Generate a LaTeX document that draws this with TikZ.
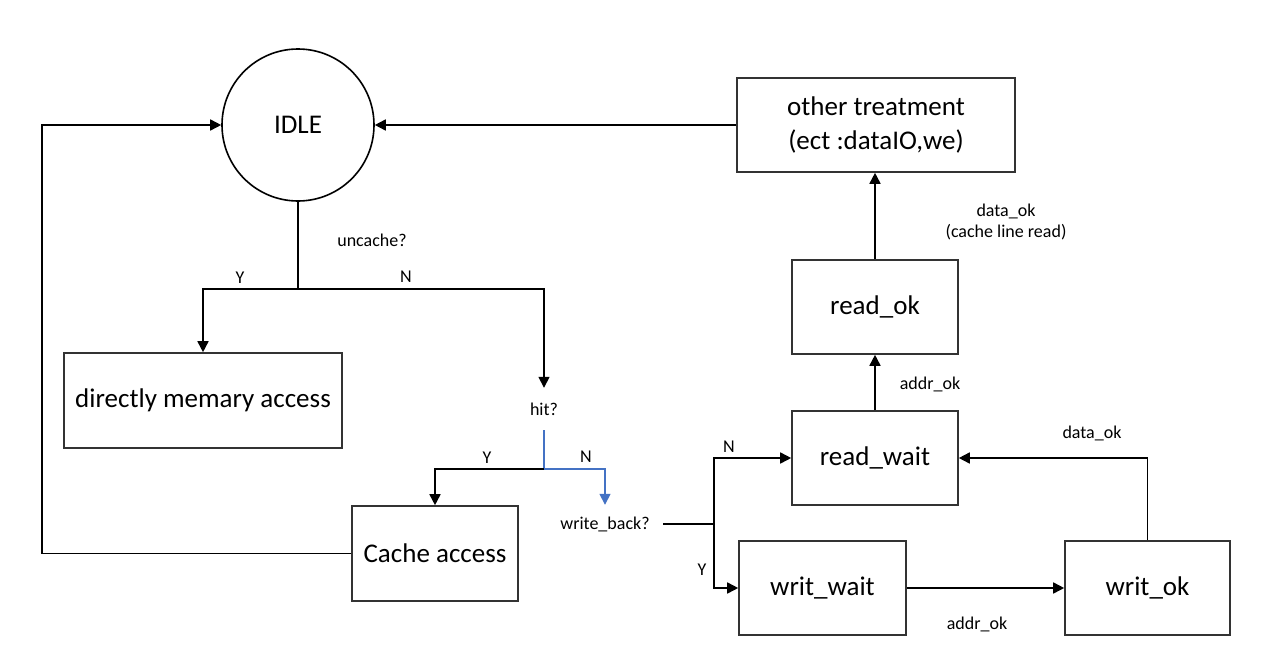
\documentclass[tikz,border=0pt]{standalone}
\usepackage{fontspec}
\setmainfont{Carlito}
\usetikzlibrary{arrows.meta,calc}
\definecolor{flowblue}{HTML}{4472C4}
\begin{document}
\begin{tikzpicture}[x=1pt,y=-1pt,
  box/.style={draw=black!80,line width=1.6pt,minimum width=#1,minimum height=94pt,inner sep=0pt,align=center,font=\fontsize{27}{34}\selectfont},
  lbl/.style={inner sep=0pt,align=center,font=\fontsize{18}{21}\selectfont},
  arr/.style={line width=1.6pt,-{Triangle[length=11pt,width=11pt]}},
  ln/.style={line width=1.6pt}]
\useasboundingbox (0,0) rectangle (1264,656);
% nodes
\node[circle,draw=black,line width=1.6pt,minimum size=152pt,inner sep=0pt,font=\fontsize{27}{32}\selectfont] (idle) at (298,125) {IDLE};
\node[box=278pt] (other) at (876,125) {other treatment\\(ect :dataIO,we)};
\node[box=278pt,minimum height=95pt] (direct) at (203,400.5) {directly memary access};
\node[box=166pt,minimum height=95pt] (cache) at (435,553.5) {Cache access};
\node[box=166pt] (readok) at (875,307) {read\_ok};
\node[box=166pt] (readwait) at (875,458) {read\_wait};
\node[box=167pt] (writwait) at (822.5,588) {writ\_wait};
\node[box=165pt] (writok) at (1147.5,588) {writ\_ok};
\node[lbl,minimum height=42pt] (hit) at (544,409) {hit?};
\node[lbl,minimum height=38pt,minimum width=116pt] (wb) at (605,524) {write\_back?};
% junctions
\coordinate (ll) at (42,125);
\coordinate (j1) at (298,289);
\coordinate (j2) at (544,469);
\coordinate (j3) at (714,524);
% connectors
\draw[arr] (other.west) -- (idle.east);
\draw[arr] (cache.west) -| (ll) -- (idle.west);
\draw[ln] (idle.south) -- (j1);
\draw[arr] (j1) -| (direct.north);
\draw[arr] (j1) -| (hit.north);
\draw[ln,flowblue] (hit.south) -- (j2);
\draw[arr] (j2) -| (cache.north);
\draw[arr,flowblue] (j2) -| (wb.north);
\draw[ln] (wb.east) -- (j3);
\draw[arr] (j3) |- (readwait.west);
\draw[arr] (j3) |- (writwait.west);
\draw[arr] (readwait.north) -- (readok.south);
\draw[arr] (readok.north) -- (readok.north |- other.south);
\draw[arr] (writwait.east) -- (writok.west);
\draw[arr] (writok.north) |- (readwait.east);
% labels
\node[lbl] (luncache) at (372,240) {uncache?};
\node[lbl] (ly1) at (240,278) {Y};
\node[lbl] (ln1) at (406,277) {N};
\node[lbl] (ly2) at (487,458) {Y};
\node[lbl] (ln2) at (586,457) {N};
\node[lbl] (ln3) at (729,447) {N};
\node[lbl] (ly3) at (702,570) {Y};
\node[lbl] (laddr1) at (930,384) {addr\_ok};
\node[lbl] (ldata1) at (1006,222) {data\_ok\\(cache line read)};
\node[lbl] (laddr2) at (977,624) {addr\_ok};
\node[lbl] (ldata2) at (1092,433) {data\_ok};
\end{tikzpicture}
\end{document}
